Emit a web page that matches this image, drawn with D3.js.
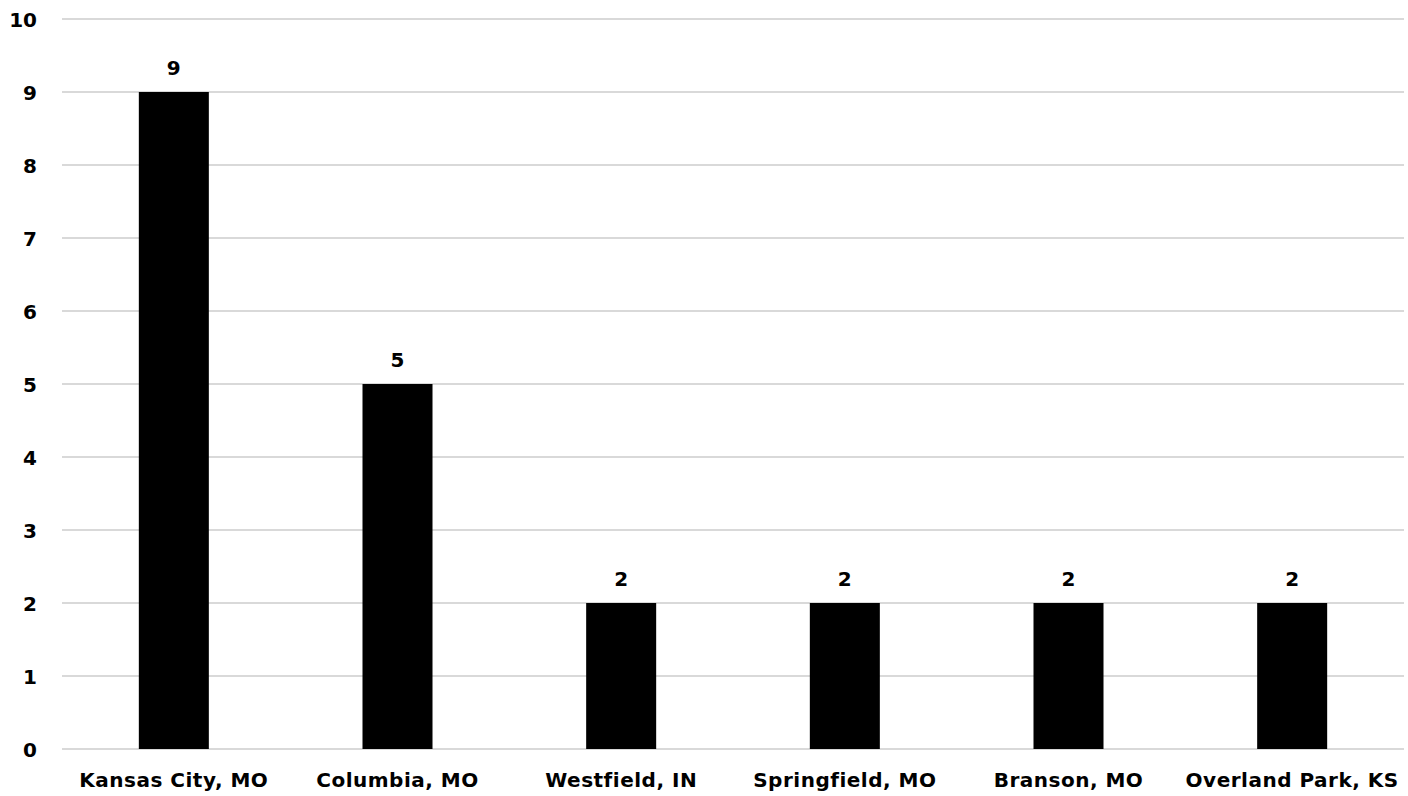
<!DOCTYPE html>
<html>
<head>
<meta charset="utf-8">
<script src="https://cdn.jsdelivr.net/npm/d3@7"></script>
<style>
  html, body { margin: 0; padding: 0; background: #fff; }
  svg { display: block; }
  text { font-family: "DejaVu Sans", sans-serif; font-weight: 700; fill: #000; }
</style>
</head>
<body>
<svg id="chart" width="1408" height="796"></svg>
<script>
const categories = ["Kansas City, MO", "Columbia, MO", "Westfield, IN", "Springfield, MO", "Branson, MO", "Overland Park, KS"];
const values = [9, 5, 2, 2, 2, 2];
const yTicks = [0, 1, 2, 3, 4, 5, 6, 7, 8, 9, 10];

const FONT = "'DejaVu Sans', sans-serif";
const svg = d3.select("#chart");
const mLeft = 62, mRight = 1404, mTop = 19, mBottom = 749;

const x = d3.scaleBand().domain(categories).range([mLeft, mRight])
  .paddingInner(0.687).paddingOuter(0.3435);
const y = d3.scaleLinear().domain([0, 10]).range([mBottom, mTop]);

// gridlines
svg.append("g").selectAll("line").data(yTicks).join("line")
  .attr("x1", mLeft).attr("x2", mRight)
  .attr("y1", d => y(d)).attr("y2", d => y(d))
  .attr("stroke", "#d9d9d9").attr("stroke-width", 2);

// y axis labels
const yAxis = d3.axisLeft(y).tickValues(yTicks).tickSize(0).tickPadding(0).tickFormat(d3.format("d"));
const gy = svg.append("g").attr("transform", `translate(37,0)`).call(yAxis);
gy.select(".domain").remove();
gy.selectAll("text").attr("font-size", 20).attr("font-family", FONT).attr("font-weight", 700).attr("fill", "#000").attr("dy", "0.35em");

// bars
svg.append("g").selectAll("rect").data(values).join("rect")
  .attr("x", (d, i) => x(categories[i]))
  .attr("width", x.bandwidth())
  .attr("y", d => y(d))
  .attr("height", d => y(0) - y(d))
  .attr("fill", "#000");

// value labels
svg.append("g").selectAll("text").data(values).join("text")
  .attr("x", (d, i) => x(categories[i]) + x.bandwidth() / 2)
  .attr("y", d => y(d) - 17)
  .attr("text-anchor", "middle")
  .attr("font-size", 20)
  .attr("font-family", FONT)
  .text(d => d);

// x axis labels
const xAxis = d3.axisBottom(x).tickSize(0).tickPadding(0);
const gx = svg.append("g").attr("transform", `translate(0,${mBottom + 24})`).call(xAxis);
gx.select(".domain").remove();
gx.selectAll("text").attr("font-size", 20).attr("font-family", FONT).attr("font-weight", 700)
  .attr("letter-spacing", "0.5px").attr("fill", "#000").attr("dy", "0.71em");
</script>
</body>
</html>
